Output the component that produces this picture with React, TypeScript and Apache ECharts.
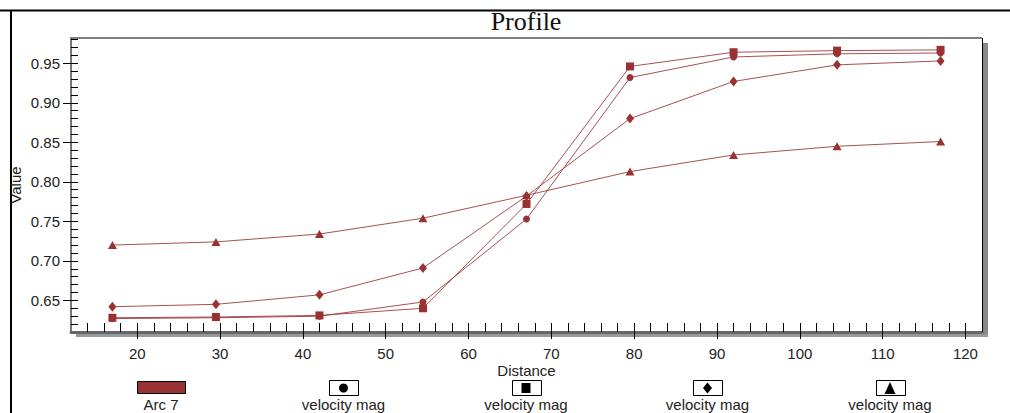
import React, { useEffect, useRef } from 'react';
import * as echarts from 'echarts';

const distances = [17, 29.5, 42, 54.5, 67, 79.5, 92, 104.5, 117];
const circleValues = [0.627, 0.628, 0.63, 0.648, 0.753, 0.932, 0.958, 0.962, 0.963];
const squareValues = [0.628, 0.629, 0.631, 0.64, 0.772, 0.946, 0.964, 0.966, 0.967];
const diamondValues = [0.642, 0.645, 0.657, 0.691, 0.782, 0.88, 0.927, 0.948, 0.953];
const triangleValues = [0.72, 0.724, 0.734, 0.754, 0.783, 0.813, 0.834, 0.845, 0.851];

const xTickLabels = [20, 30, 40, 50, 60, 70, 80, 90, 100, 110, 120];
const yTickLabels = [0.65, 0.7, 0.75, 0.8, 0.85, 0.9, 0.95];
const legendLabels = ['Arc 7', 'velocity mag', 'velocity mag', 'velocity mag', 'velocity mag'];
const legendIcons = ['swatch', 'circle', 'rect', 'diamond', 'triangle'];

const X_MIN = 12;
const X_MAX = 122;
const Y_MIN = 0.61;
const Y_MAX = 0.982;

const RED = '#993333';
const FONT = "'Liberation Sans', Arial, sans-serif";

const xMinorTicks: number[] = [];
for (let v = 14; v <= 122; v += 2) xMinorTicks.push(v);
const yMinorTicks: number[] = [];
for (let k = 62; k <= 98; k += 1) yMinorTicks.push(k / 100);

const G_LEFT = 71;
const G_TOP = 38;
const G_RIGHT = 982;
const G_BOTTOM = 332;

function legendGraphics() {
  const els: any[] = [];
  const centers = [161, 343.5, 526, 707.5, 890];
  legendLabels.forEach((label, i) => {
    const cx = centers[i];
    const icon = legendIcons[i];
    if (icon === 'swatch') {
      els.push({ type: 'rect', shape: { x: cx - 23.5, y: 381.5, width: 48, height: 12 }, style: { fill: RED, stroke: '#000', lineWidth: 1 } });
    } else {
      els.push({ type: 'rect', shape: { x: Math.round(cx - 14.5) + 0.5, y: 380.5, width: 29, height: 15 }, style: { fill: '#fff', stroke: '#000', lineWidth: 1 } });
      const cy = 388;
      if (icon === 'circle') {
        els.push({ type: 'circle', shape: { cx, cy, r: 4.5 }, style: { fill: '#000' } });
      } else if (icon === 'rect') {
        els.push({ type: 'rect', shape: { x: cx - 4.5, y: cy - 5, width: 9, height: 10 }, style: { fill: '#000' } });
      } else if (icon === 'diamond') {
        els.push({ type: 'polygon', shape: { points: [[cx, cy - 5.5], [cx + 4.5, cy], [cx, cy + 5.5], [cx - 4.5, cy]] }, style: { fill: '#000' } });
      } else {
        els.push({ type: 'polygon', shape: { points: [[cx, cy - 6], [cx + 5.5, cy + 6], [cx - 5.5, cy + 6]] }, style: { fill: '#000' } });
      }
    }
    els.push({
      type: 'text',
      x: cx,
      y: 404,
      style: { text: label, fill: '#222', font: `15px ${FONT}`, textAlign: 'center', textVerticalAlign: 'middle' },
    });
  });
  return els;
}

function makeSeries(name: string, values: number[], symbol: string, size: any) {
  return {
    name,
    type: 'line',
    xAxisIndex: 0,
    yAxisIndex: 0,
    symbol,
    symbolSize: size,
    showSymbol: true,
    lineStyle: { color: RED, width: 1, opacity: 0.85 },
    itemStyle: { color: RED },
    data: distances.map((d, i) => [d, values[i]]),
  };
}

export default function App() {
  const ref = useRef<HTMLDivElement>(null);
  useEffect(() => {
    document.body.style.margin = '0';
    const chart = echarts.init(ref.current!, null, { renderer: 'svg' });
    const labelStyle = { color: '#222', fontSize: 15, fontFamily: FONT };
    chart.setOption({
      animation: false,
      backgroundColor: '#fff',
      title: {
        text: 'Profile',
        left: 526,
        top: 8,
        padding: 0,
        textAlign: 'center',
        textStyle: { fontFamily: "'Liberation Serif', 'Times New Roman', serif", fontSize: 26, fontWeight: 'normal', color: '#111' },
      },
      grid: { left: G_LEFT, top: G_TOP, right: 1010 - G_RIGHT, bottom: 413 - G_BOTTOM, containLabel: false },
      xAxis: [
        {
          type: 'value',
          min: X_MIN,
          max: X_MAX,
          position: 'bottom',
          name: 'Distance',
          nameLocation: 'middle',
          nameGap: 31,
          nameMoveOverlap: false,
          nameTextStyle: labelStyle,
          axisLine: { show: true, lineStyle: { color: '#666', width: 3 } },
          axisTick: { show: true, inside: true, length: 9, customValues: xMinorTicks, lineStyle: { color: '#000', width: 1 } },
          axisLabel: { show: true, customValues: xTickLabels, margin: 14, ...labelStyle },
          splitLine: { show: false },
        },
        {
          type: 'value',
          min: X_MIN,
          max: X_MAX,
          position: 'bottom',
          axisLine: { show: false },
          axisTick: { show: true, inside: false, length: 7, customValues: xTickLabels, lineStyle: { color: '#000', width: 1 } },
          axisLabel: { show: false },
          splitLine: { show: false },
        },
      ],
      yAxis: [
        {
          type: 'value',
          min: Y_MIN,
          max: Y_MAX,
          position: 'left',
          name: 'Value',
          nameLocation: 'middle',
          nameGap: 48,
          nameMoveOverlap: false,
          nameTextStyle: labelStyle,
          axisLine: { show: true, lineStyle: { color: '#777', width: 2 } },
          axisTick: { show: true, inside: true, length: 7, customValues: yMinorTicks, lineStyle: { color: '#000', width: 1 } },
          axisLabel: { show: true, customValues: yTickLabels, margin: 11, formatter: (v: number) => v.toFixed(2), ...labelStyle },
          splitLine: { show: false },
        },
        {
          type: 'value',
          min: Y_MIN,
          max: Y_MAX,
          position: 'left',
          offset: 0,
          axisLine: { show: false },
          axisTick: { show: true, inside: false, length: 8, customValues: yTickLabels, lineStyle: { color: '#000', width: 1 } },
          axisLabel: { show: false },
          splitLine: { show: false },
        },
      ],
      graphic: [
        { type: 'line', shape: { x1: 0, y1: 10.5, x2: 1010, y2: 10.5 }, style: { stroke: '#000', lineWidth: 2 } },
        { type: 'line', shape: { x1: 11, y1: 10, x2: 11, y2: 413 }, style: { stroke: '#000', lineWidth: 2 } },
        { type: 'rect', shape: { x: G_RIGHT + 1, y: G_TOP + 5, width: 5, height: G_BOTTOM - G_TOP }, style: { fill: '#888' } },
        { type: 'rect', shape: { x: G_LEFT + 5, y: G_BOTTOM + 2, width: G_RIGHT - G_LEFT + 1, height: 3 }, style: { fill: '#999' } },
        { type: 'line', shape: { x1: G_LEFT, y1: G_TOP, x2: G_RIGHT, y2: G_TOP }, style: { stroke: '#808080', lineWidth: 2 } },
        { type: 'line', shape: { x1: G_RIGHT + 0.5, y1: G_TOP, x2: G_RIGHT + 0.5, y2: G_BOTTOM }, style: { stroke: '#000', lineWidth: 1 } },
        ...legendGraphics(),
      ],
      series: [
        makeSeries('velocity mag', circleValues, 'circle', 7),
        makeSeries('velocity mag', squareValues, 'rect', [8, 8]),
        makeSeries('velocity mag', diamondValues, 'diamond', [8, 10]),
        makeSeries('velocity mag', triangleValues, 'triangle', [9, 8]),
      ],
    });
    return () => chart.dispose();
  }, []);
  return <div ref={ref} style={{ width: 1010, height: 413 }} />;
}
